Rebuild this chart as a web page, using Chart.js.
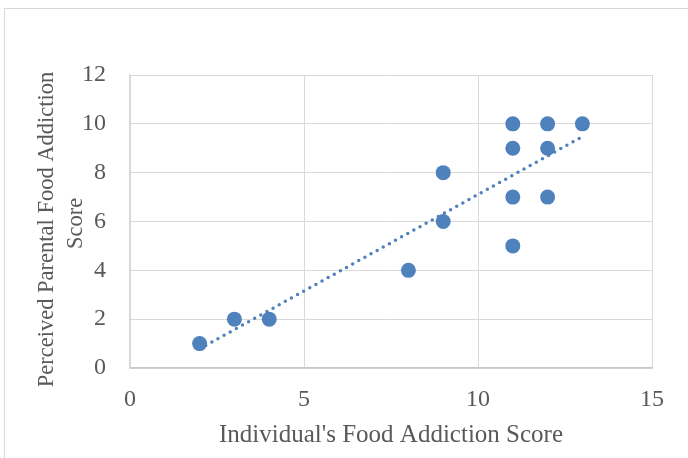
<!DOCTYPE html>
<html>
<head>
<meta charset="utf-8">
<script src="https://cdn.jsdelivr.net/npm/chart.js@4/dist/chart.umd.min.js"></script>
<style>
  html, body { margin: 0; padding: 0; background: #ffffff; }
  #wrap { width: 688px; height: 458px; position: relative; }
</style>
</head>
<body>
<div id="wrap"><canvas id="chart" width="688" height="458"></canvas></div>
<script>
// Individual vs. perceived parental food addiction scores
const individualScores = [2, 3, 4, 8, 9, 9, 11, 11, 11, 11, 12, 12, 12, 13];
const parentalScores   = [1, 2, 2, 4, 6, 8, 5, 7, 9, 10, 7, 9, 10, 10];
const xTicks = [0, 5, 10, 15];
const yTicks = [0, 2, 4, 6, 8, 10, 12];
const xTitle = "Individual's Food Addiction Score";
const yTitleLines = ['Perceived Parental Food Addiction', 'Score'];

const points = individualScores.map((x, i) => ({ x: x, y: parentalScores[i] }));

// Least-squares linear trendline across the observed x range
function linearFit(xs, ys) {
  const n = xs.length;
  const mx = xs.reduce((a, b) => a + b, 0) / n;
  const my = ys.reduce((a, b) => a + b, 0) / n;
  let sxy = 0, sxx = 0;
  for (let i = 0; i < n; i++) {
    sxy += (xs[i] - mx) * (ys[i] - my);
    sxx += (xs[i] - mx) * (xs[i] - mx);
  }
  const slope = sxy / sxx;
  return { slope: slope, intercept: my - slope * mx };
}
const fit = linearFit(individualScores, parentalScores);
const xMin = Math.min(...individualScores);
const xMax = Math.max(...individualScores);
const trend = [
  { x: xMin, y: fit.intercept + fit.slope * xMin },
  { x: xMax, y: fit.intercept + fit.slope * xMax }
];

const textColor = '#595959';
const gridColor = '#d9d9d9';
const markColor = '#4f81bd';
const fontFamily = "'Liberation Serif', 'DejaVu Serif', serif";

// Thin frame around the whole chart
const framePlugin = {
  id: 'frame',
  beforeDraw(chart) {
    const ctx = chart.ctx;
    ctx.save();
    ctx.fillStyle = '#ffffff';
    ctx.fillRect(0, 0, chart.width, chart.height);
    ctx.strokeStyle = '#d9d9d9';
    ctx.lineWidth = 1;
    ctx.strokeRect(4.5, 8.5, chart.width + 10, chart.height + 10);
    ctx.restore();
  }
};

// Two-line rotated title for the value axis, placed left of the tick labels
const yTitlePlugin = {
  id: 'yTitle',
  afterDraw(chart) {
    const ctx = chart.ctx;
    const area = chart.chartArea;
    const mid = (area.top + area.bottom) / 2;
    const lines = [
      { text: yTitleLines[0], x: 47, y: mid + 8 },
      { text: yTitleLines[1], x: 76, y: mid + 2 }
    ];
    ctx.save();
    ctx.fillStyle = textColor;
    ctx.font = '22.5px ' + fontFamily;
    ctx.textAlign = 'center';
    ctx.textBaseline = 'middle';
    lines.forEach(l => {
      ctx.save();
      ctx.translate(l.x, l.y);
      ctx.rotate(-Math.PI / 2);
      ctx.fillText(l.text, 0, 0);
      ctx.restore();
    });
    ctx.restore();
  }
};

new Chart(document.getElementById('chart'), {
  type: 'scatter',
  data: {
    datasets: [
      {
        label: 'Linear trend',
        data: trend,
        showLine: true,
        borderColor: markColor,
        backgroundColor: markColor,
        borderWidth: 3.5,
        borderDash: [0, 7],
        borderCapStyle: 'round',
        pointRadius: 0,
        pointHoverRadius: 0,
        fill: false
      },
      {
        label: 'Scores',
        data: points,
        backgroundColor: markColor,
        borderColor: markColor,
        borderWidth: 0,
        pointRadius: 7.5,
        pointHoverRadius: 7.5
      }
    ]
  },
  options: {
    responsive: false,
    animation: false,
    events: [],
    layout: { padding: { left: 5, right: 36, top: 75, bottom: 0 } },
    plugins: {
      legend: { display: false },
      tooltip: { enabled: false },
      title: { display: false }
    },
    scales: {
      x: {
        type: 'linear',
        min: 0,
        max: 15,
        afterBuildTicks(scale) { scale.ticks = xTicks.map(v => ({ value: v })); },
        afterFit(scale) { scale.height = 90; },
        ticks: {
          color: textColor,
          font: { family: fontFamily, size: 24 },
          padding: 17,
          maxRotation: 0
        },
        grid: { color: gridColor, lineWidth: 1, drawTicks: false },
        border: { color: '#c8c8c8', width: 1.5 },
        title: {
          display: true,
          text: xTitle,
          color: textColor,
          font: { family: fontFamily, size: 25, lineHeight: 1.15 },
          padding: { top: 0, bottom: 8 }
        }
      },
      y: {
        type: 'linear',
        min: 0,
        max: 12,
        afterBuildTicks(scale) { scale.ticks = yTicks.map(v => ({ value: v })); },
        afterFit(scale) { scale.width = 125; },
        ticks: {
          color: textColor,
          font: { family: fontFamily, size: 24 },
          padding: 24
        },
        grid: { color: gridColor, lineWidth: 1, drawTicks: false },
        border: { color: gridColor, width: 1.5 },
        title: { display: false }
      }
    }
  },
  plugins: [framePlugin, yTitlePlugin]
});
</script>
</body>
</html>
